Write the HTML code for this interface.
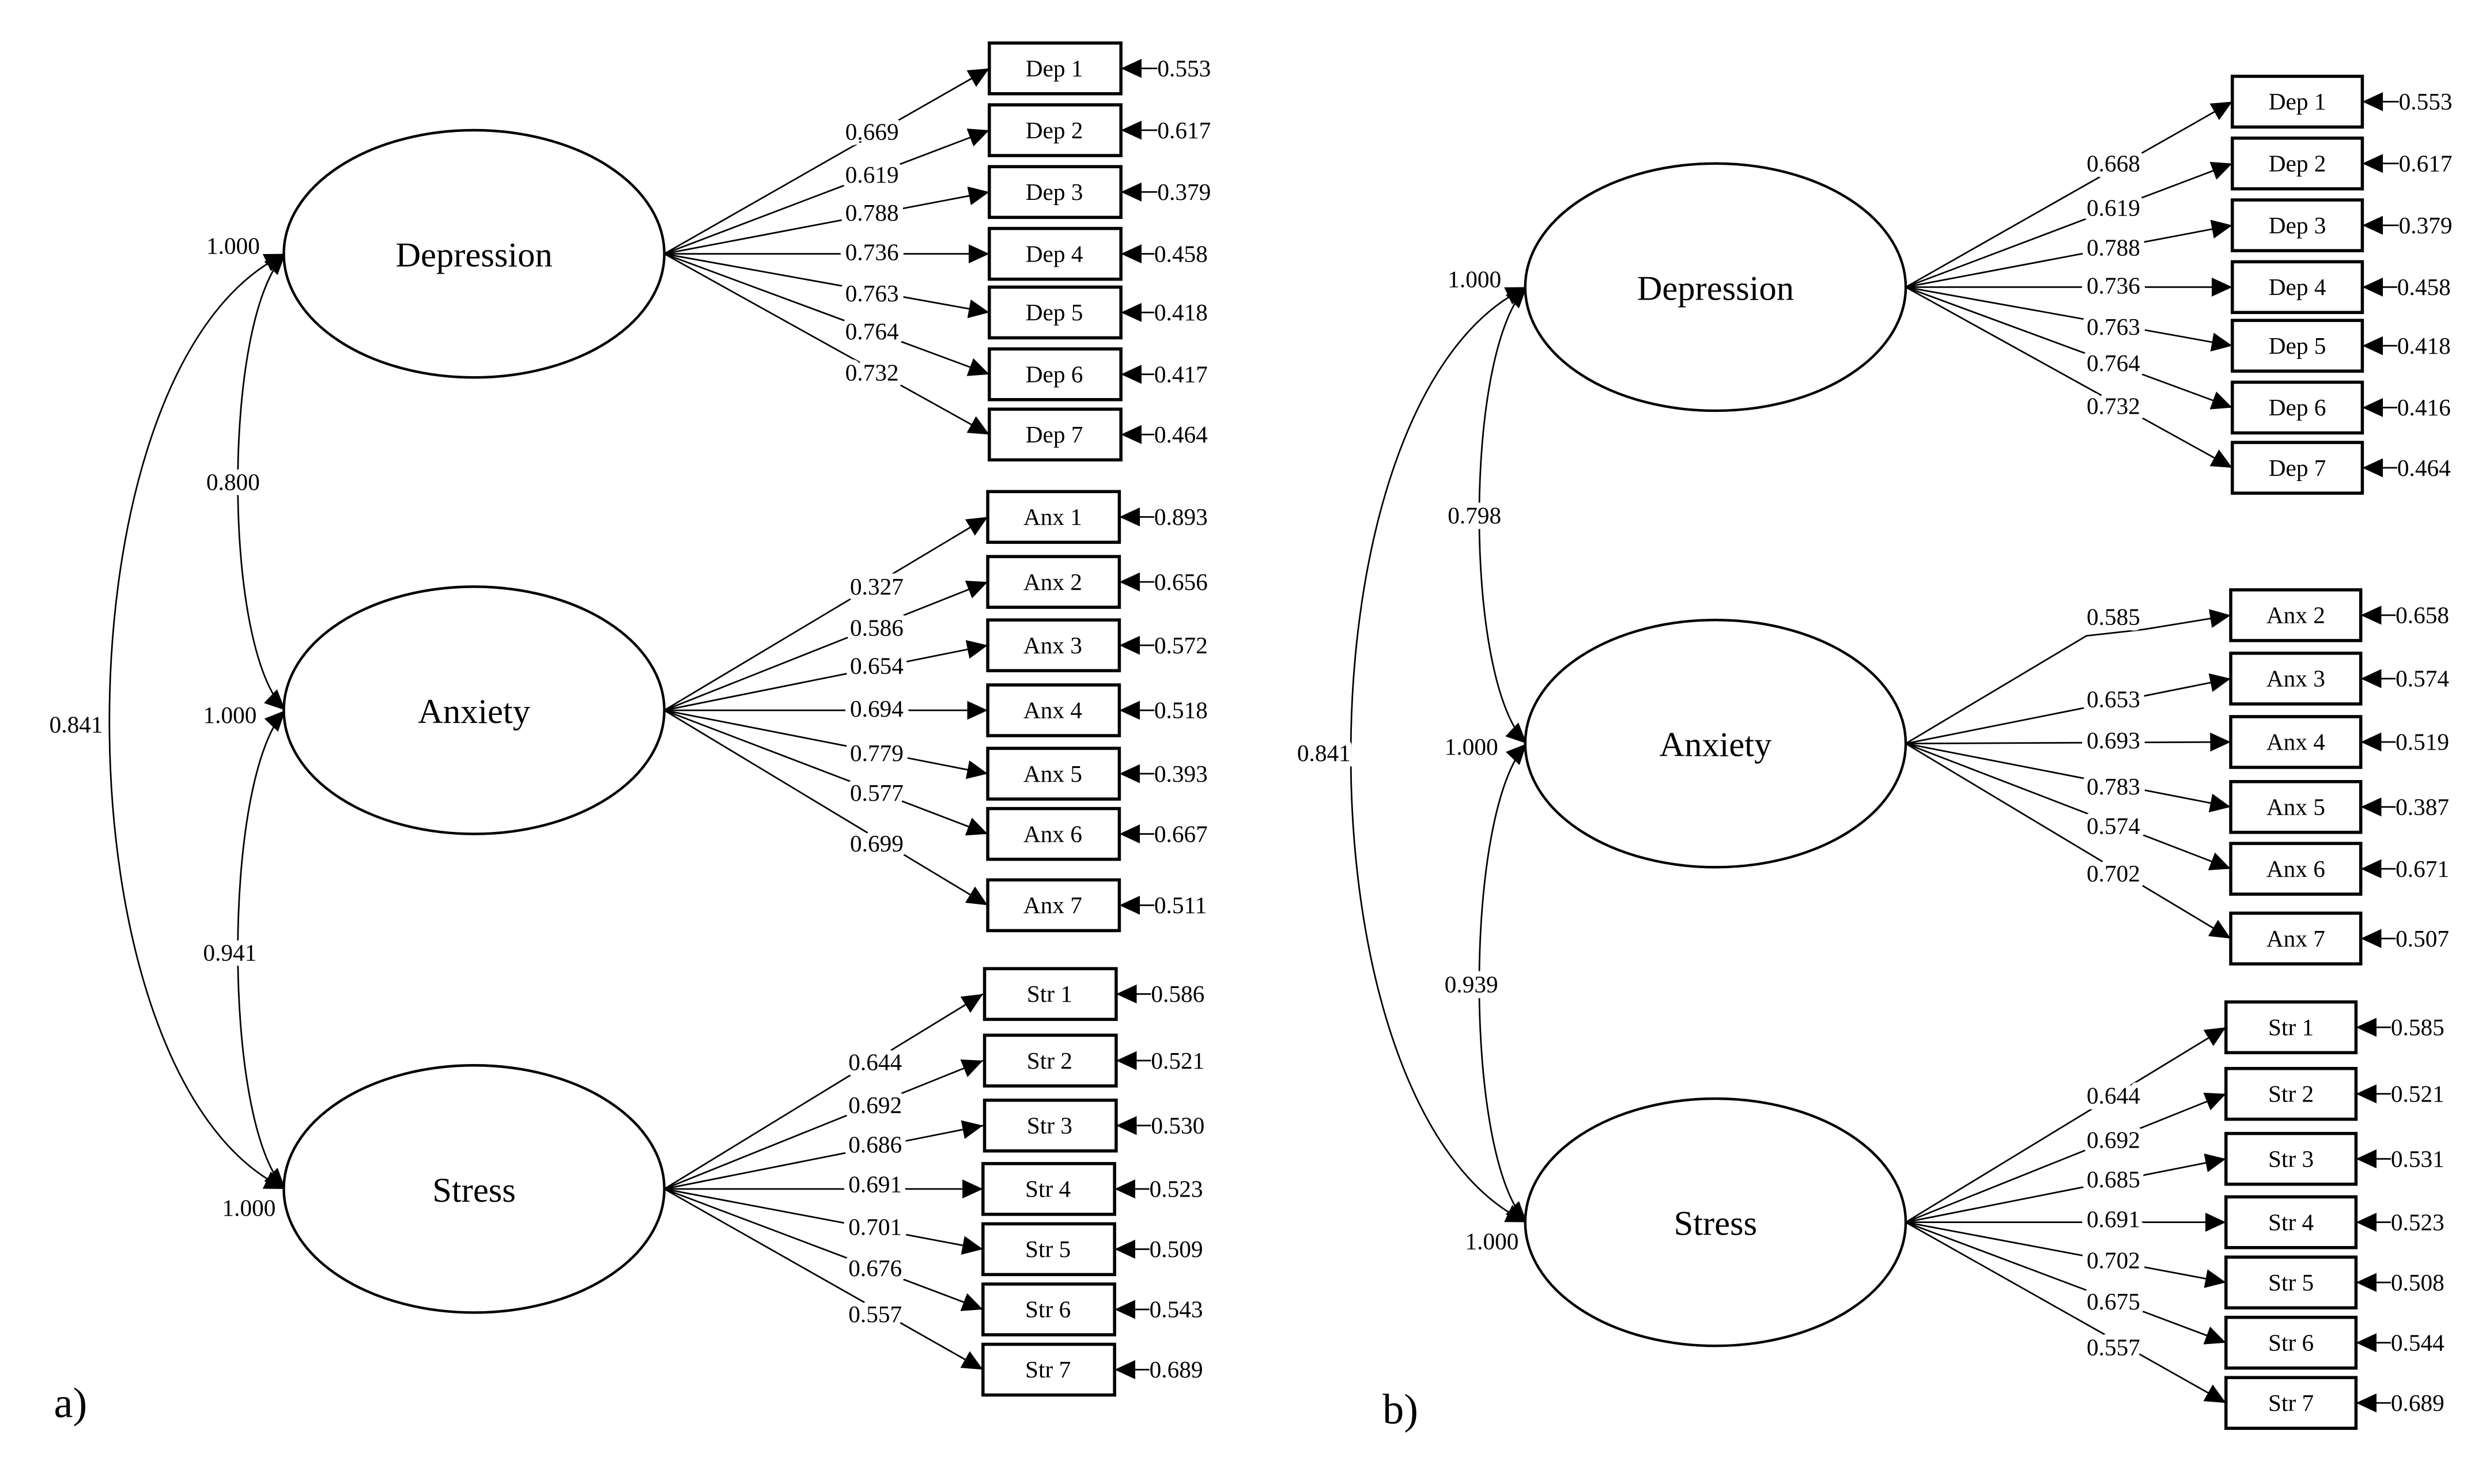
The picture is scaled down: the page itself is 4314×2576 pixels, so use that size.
<!DOCTYPE html>
<html><head><meta charset="utf-8"><style>
html,body{margin:0;padding:0;background:#fff}
svg{display:block}
text{font-family:"Liberation Serif",serif;fill:#000}
.l{font-size:15px;text-anchor:middle;paint-order:stroke;stroke:#fff;stroke-width:7px;stroke-linejoin:round}
.e{font-size:15px}
.b{font-size:15px;text-anchor:middle}
.v{font-size:22px;text-anchor:middle}
.ln{stroke:#000;stroke-width:1;fill:none;marker-end:url(#ah)}
.bx{fill:#fff;stroke:#000;stroke-width:2}
.el{fill:#fff;stroke:#000;stroke-width:1.6}
.cv{stroke:#000;stroke-width:1;fill:none;marker-end:url(#ah);marker-start:url(#ah)}
</style></head><body>
<svg width="4314" height="2576" viewBox="0 0 1568 936" xmlns="http://www.w3.org/2000/svg">
<defs><marker id="ah" markerUnits="userSpaceOnUse" markerWidth="14" markerHeight="12" refX="13" refY="6" orient="auto-start-reverse"><path d="M0,0 L13,6 L0,12 z" fill="#000"/></marker></defs>
<rect width="1568" height="936" fill="#fff"/>

<!-- ===== Panel a ===== -->
<path class="cv" d="M180,160 C32,230 32,680 180,750"/>
<path class="cv" d="M180,160 C140,200 140,410 180,448"/>
<path class="cv" d="M180,448 C140,490 140,710 180,750"/>
<text class="l" x="48" y="462">0.841</text>
<text class="l" x="147" y="309">0.800</text>
<text class="l" x="145" y="606">0.941</text>
<text class="l" x="147" y="160">1.000</text>
<text class="l" x="145" y="456">1.000</text>
<text class="l" x="157" y="767">1.000</text>

<path class="ln" d="M419,160 L624,43"/><path class="ln" d="M419,160 L624,82"/><path class="ln" d="M419,160 L624,121"/><path class="ln" d="M419,160 L624,160"/><path class="ln" d="M419,160 L624,197"/><path class="ln" d="M419,160 L624,236"/><path class="ln" d="M419,160 L624,274"/>
<path class="ln" d="M419,448 L623,326"/><path class="ln" d="M419,448 L623,367"/><path class="ln" d="M419,448 L623,407"/><path class="ln" d="M419,448 L623,448"/><path class="ln" d="M419,448 L623,488"/><path class="ln" d="M419,448 L623,526"/><path class="ln" d="M419,448 L623,571"/>
<path class="ln" d="M419,750 L620,627"/><path class="ln" d="M419,750 L620,669"/><path class="ln" d="M419,750 L620,710"/><path class="ln" d="M419,750 L620,750"/><path class="ln" d="M419,750 L620,788"/><path class="ln" d="M419,750 L620,826"/><path class="ln" d="M419,750 L620,864"/>

<ellipse class="el" cx="299" cy="160" rx="120" ry="78"/>
<ellipse class="el" cx="299" cy="448" rx="120" ry="78"/>
<ellipse class="el" cx="299" cy="750" rx="120" ry="78"/>
<text class="v" x="299" y="168">Depression</text>
<text class="v" x="299" y="456">Anxiety</text>
<text class="v" x="299" y="758">Stress</text>

<text class="l" x="550" y="88">0.669</text><text class="l" x="550" y="115">0.619</text><text class="l" x="550" y="139">0.788</text><text class="l" x="550" y="164">0.736</text><text class="l" x="550" y="190">0.763</text><text class="l" x="550" y="214">0.764</text><text class="l" x="550" y="240">0.732</text>
<text class="l" x="553" y="375">0.327</text><text class="l" x="553" y="401">0.586</text><text class="l" x="553" y="425">0.654</text><text class="l" x="553" y="452">0.694</text><text class="l" x="553" y="480">0.779</text><text class="l" x="553" y="505">0.577</text><text class="l" x="553" y="537">0.699</text>
<text class="l" x="552" y="675">0.644</text><text class="l" x="552" y="702">0.692</text><text class="l" x="552" y="727">0.686</text><text class="l" x="552" y="752">0.691</text><text class="l" x="552" y="779">0.701</text><text class="l" x="552" y="805">0.676</text><text class="l" x="552" y="834">0.557</text>

<g>
<rect class="bx" x="624" y="27" width="83" height="32"/><text class="b" x="665" y="48">Dep 1</text>
<rect class="bx" x="624" y="66" width="83" height="32"/><text class="b" x="665" y="87">Dep 2</text>
<rect class="bx" x="624" y="105" width="83" height="32"/><text class="b" x="665" y="126">Dep 3</text>
<rect class="bx" x="624" y="144" width="83" height="32"/><text class="b" x="665" y="165">Dep 4</text>
<rect class="bx" x="624" y="181" width="83" height="32"/><text class="b" x="665" y="202">Dep 5</text>
<rect class="bx" x="624" y="220" width="83" height="32"/><text class="b" x="665" y="241">Dep 6</text>
<rect class="bx" x="624" y="258" width="83" height="32"/><text class="b" x="665" y="279">Dep 7</text>
<rect class="bx" x="623" y="310" width="83" height="32"/><text class="b" x="664" y="331">Anx 1</text>
<rect class="bx" x="623" y="351" width="83" height="32"/><text class="b" x="664" y="372">Anx 2</text>
<rect class="bx" x="623" y="391" width="83" height="32"/><text class="b" x="664" y="412">Anx 3</text>
<rect class="bx" x="623" y="432" width="83" height="32"/><text class="b" x="664" y="453">Anx 4</text>
<rect class="bx" x="623" y="472" width="83" height="32"/><text class="b" x="664" y="493">Anx 5</text>
<rect class="bx" x="623" y="510" width="83" height="32"/><text class="b" x="664" y="531">Anx 6</text>
<rect class="bx" x="623" y="555" width="83" height="32"/><text class="b" x="664" y="576">Anx 7</text>
<rect class="bx" x="621" y="611" width="83" height="32"/><text class="b" x="662" y="632">Str 1</text>
<rect class="bx" x="621" y="653" width="83" height="32"/><text class="b" x="662" y="674">Str 2</text>
<rect class="bx" x="621" y="694" width="83" height="32"/><text class="b" x="662" y="715">Str 3</text>
<rect class="bx" x="620" y="734" width="83" height="32"/><text class="b" x="661" y="755">Str 4</text>
<rect class="bx" x="620" y="772" width="83" height="32"/><text class="b" x="661" y="793">Str 5</text>
<rect class="bx" x="620" y="810" width="83" height="32"/><text class="b" x="661" y="831">Str 6</text>
<rect class="bx" x="620" y="848" width="83" height="32"/><text class="b" x="661" y="869">Str 7</text>
</g>
<g>
<path class="ln" d="M730,43 L707,43"/><text class="e" x="730" y="48">0.553</text>
<path class="ln" d="M730,82 L707,82"/><text class="e" x="730" y="87">0.617</text>
<path class="ln" d="M730,121 L707,121"/><text class="e" x="730" y="126">0.379</text>
<path class="ln" d="M728,160 L707,160"/><text class="e" x="728" y="165">0.458</text>
<path class="ln" d="M728,197 L707,197"/><text class="e" x="728" y="202">0.418</text>
<path class="ln" d="M728,236 L707,236"/><text class="e" x="728" y="241">0.417</text>
<path class="ln" d="M728,274 L707,274"/><text class="e" x="728" y="279">0.464</text>
<path class="ln" d="M728,326 L706,326"/><text class="e" x="728" y="331">0.893</text>
<path class="ln" d="M728,367 L706,367"/><text class="e" x="728" y="372">0.656</text>
<path class="ln" d="M728,407 L706,407"/><text class="e" x="728" y="412">0.572</text>
<path class="ln" d="M728,448 L706,448"/><text class="e" x="728" y="453">0.518</text>
<path class="ln" d="M728,488 L706,488"/><text class="e" x="728" y="493">0.393</text>
<path class="ln" d="M728,526 L706,526"/><text class="e" x="728" y="531">0.667</text>
<path class="ln" d="M728,571 L706,571"/><text class="e" x="728" y="576">0.511</text>
<path class="ln" d="M726,627 L704,627"/><text class="e" x="726" y="632">0.586</text>
<path class="ln" d="M726,669 L704,669"/><text class="e" x="726" y="674">0.521</text>
<path class="ln" d="M726,710 L704,710"/><text class="e" x="726" y="715">0.530</text>
<path class="ln" d="M725,750 L703,750"/><text class="e" x="725" y="755">0.523</text>
<path class="ln" d="M725,788 L703,788"/><text class="e" x="725" y="793">0.509</text>
<path class="ln" d="M725,826 L703,826"/><text class="e" x="725" y="831">0.543</text>
<path class="ln" d="M725,864 L703,864"/><text class="e" x="725" y="869">0.689</text>
</g>
<text x="34" y="894" style="font-size:27px">a)</text>

<!-- ===== Panel b ===== -->
<path class="cv" d="M963,181 C815,251 815,701 963,771"/>
<path class="cv" d="M963,181 C923,221 923,431 963,469"/>
<path class="cv" d="M963,469 C923,511 923,731 963,771"/>
<text class="l" x="835" y="480">0.841</text>
<text class="l" x="930" y="330">0.798</text>
<text class="l" x="928" y="626">0.939</text>
<text class="l" x="930" y="181">1.000</text>
<text class="l" x="928" y="476">1.000</text>
<text class="l" x="941" y="788">1.000</text>

<path class="ln" d="M1202,181 L1408,64"/><path class="ln" d="M1202,181 L1408,103"/><path class="ln" d="M1202,181 L1408,142"/><path class="ln" d="M1202,181 L1408,181"/><path class="ln" d="M1202,181 L1408,218"/><path class="ln" d="M1202,181 L1408,257"/><path class="ln" d="M1202,181 L1408,295"/>
<path class="ln" d="M1202,469 L1316,401 L1352,397 L1407,388"/><path class="ln" d="M1202,469 L1407,428"/><path class="ln" d="M1202,469 L1407,468"/><path class="ln" d="M1202,469 L1407,509"/><path class="ln" d="M1202,469 L1407,548"/><path class="ln" d="M1202,469 L1407,592"/>
<path class="ln" d="M1202,771 L1404,648"/><path class="ln" d="M1202,771 L1404,690"/><path class="ln" d="M1202,771 L1404,731"/><path class="ln" d="M1202,771 L1404,771"/><path class="ln" d="M1202,771 L1404,809"/><path class="ln" d="M1202,771 L1404,847"/><path class="ln" d="M1202,771 L1404,885"/>

<ellipse class="el" cx="1082" cy="181" rx="120" ry="78"/>
<ellipse class="el" cx="1082" cy="469" rx="120" ry="78"/>
<ellipse class="el" cx="1082" cy="771" rx="120" ry="78"/>
<text class="v" x="1082" y="189">Depression</text>
<text class="v" x="1082" y="477">Anxiety</text>
<text class="v" x="1082" y="779">Stress</text>

<text class="l" x="1333" y="108">0.668</text><text class="l" x="1333" y="136">0.619</text><text class="l" x="1333" y="161">0.788</text><text class="l" x="1333" y="185">0.736</text><text class="l" x="1333" y="211">0.763</text><text class="l" x="1333" y="234">0.764</text><text class="l" x="1333" y="261">0.732</text>
<text class="l" x="1333" y="394">0.585</text><text class="l" x="1333" y="446">0.653</text><text class="l" x="1333" y="472">0.693</text><text class="l" x="1333" y="501">0.783</text><text class="l" x="1333" y="526">0.574</text><text class="l" x="1333" y="556">0.702</text>
<text class="l" x="1333" y="696">0.644</text><text class="l" x="1333" y="724">0.692</text><text class="l" x="1333" y="749">0.685</text><text class="l" x="1333" y="774">0.691</text><text class="l" x="1333" y="800">0.702</text><text class="l" x="1333" y="826">0.675</text><text class="l" x="1333" y="855">0.557</text>

<g>
<rect class="bx" x="1408" y="48" width="82" height="32"/><text class="b" x="1449" y="69">Dep 1</text>
<rect class="bx" x="1408" y="87" width="82" height="32"/><text class="b" x="1449" y="108">Dep 2</text>
<rect class="bx" x="1408" y="126" width="82" height="32"/><text class="b" x="1449" y="147">Dep 3</text>
<rect class="bx" x="1408" y="165" width="82" height="32"/><text class="b" x="1449" y="186">Dep 4</text>
<rect class="bx" x="1408" y="202" width="82" height="32"/><text class="b" x="1449" y="223">Dep 5</text>
<rect class="bx" x="1408" y="241" width="82" height="32"/><text class="b" x="1449" y="262">Dep 6</text>
<rect class="bx" x="1408" y="279" width="82" height="32"/><text class="b" x="1449" y="300">Dep 7</text>
<rect class="bx" x="1407" y="372" width="82" height="32"/><text class="b" x="1448" y="393">Anx 2</text>
<rect class="bx" x="1407" y="412" width="82" height="32"/><text class="b" x="1448" y="433">Anx 3</text>
<rect class="bx" x="1407" y="452" width="82" height="32"/><text class="b" x="1448" y="473">Anx 4</text>
<rect class="bx" x="1407" y="493" width="82" height="32"/><text class="b" x="1448" y="514">Anx 5</text>
<rect class="bx" x="1407" y="532" width="82" height="32"/><text class="b" x="1448" y="553">Anx 6</text>
<rect class="bx" x="1407" y="576" width="82" height="32"/><text class="b" x="1448" y="597">Anx 7</text>
<rect class="bx" x="1404" y="632" width="82" height="32"/><text class="b" x="1445" y="653">Str 1</text>
<rect class="bx" x="1404" y="674" width="82" height="32"/><text class="b" x="1445" y="695">Str 2</text>
<rect class="bx" x="1404" y="715" width="82" height="32"/><text class="b" x="1445" y="736">Str 3</text>
<rect class="bx" x="1404" y="755" width="82" height="32"/><text class="b" x="1445" y="776">Str 4</text>
<rect class="bx" x="1404" y="793" width="82" height="32"/><text class="b" x="1445" y="814">Str 5</text>
<rect class="bx" x="1404" y="831" width="82" height="32"/><text class="b" x="1445" y="852">Str 6</text>
<rect class="bx" x="1404" y="869" width="82" height="32"/><text class="b" x="1445" y="890">Str 7</text>
</g>
<g>
<path class="ln" d="M1513,64 L1490,64"/><text class="e" x="1513" y="69">0.553</text>
<path class="ln" d="M1513,103 L1490,103"/><text class="e" x="1513" y="108">0.617</text>
<path class="ln" d="M1513,142 L1490,142"/><text class="e" x="1513" y="147">0.379</text>
<path class="ln" d="M1512,181 L1490,181"/><text class="e" x="1512" y="186">0.458</text>
<path class="ln" d="M1512,218 L1490,218"/><text class="e" x="1512" y="223">0.418</text>
<path class="ln" d="M1512,257 L1490,257"/><text class="e" x="1512" y="262">0.416</text>
<path class="ln" d="M1512,295 L1490,295"/><text class="e" x="1512" y="300">0.464</text>
<path class="ln" d="M1511,388 L1489,388"/><text class="e" x="1511" y="393">0.658</text>
<path class="ln" d="M1511,428 L1489,428"/><text class="e" x="1511" y="433">0.574</text>
<path class="ln" d="M1511,468 L1489,468"/><text class="e" x="1511" y="473">0.519</text>
<path class="ln" d="M1511,509 L1489,509"/><text class="e" x="1511" y="514">0.387</text>
<path class="ln" d="M1511,548 L1489,548"/><text class="e" x="1511" y="553">0.671</text>
<path class="ln" d="M1511,592 L1489,592"/><text class="e" x="1511" y="597">0.507</text>
<path class="ln" d="M1508,648 L1486,648"/><text class="e" x="1508" y="653">0.585</text>
<path class="ln" d="M1508,690 L1486,690"/><text class="e" x="1508" y="695">0.521</text>
<path class="ln" d="M1508,731 L1486,731"/><text class="e" x="1508" y="736">0.531</text>
<path class="ln" d="M1508,771 L1486,771"/><text class="e" x="1508" y="776">0.523</text>
<path class="ln" d="M1508,809 L1486,809"/><text class="e" x="1508" y="814">0.508</text>
<path class="ln" d="M1508,847 L1486,847"/><text class="e" x="1508" y="852">0.544</text>
<path class="ln" d="M1508,885 L1486,885"/><text class="e" x="1508" y="890">0.689</text>
</g>
<text x="872" y="898" style="font-size:27px">b)</text>
</svg>
</body></html>
